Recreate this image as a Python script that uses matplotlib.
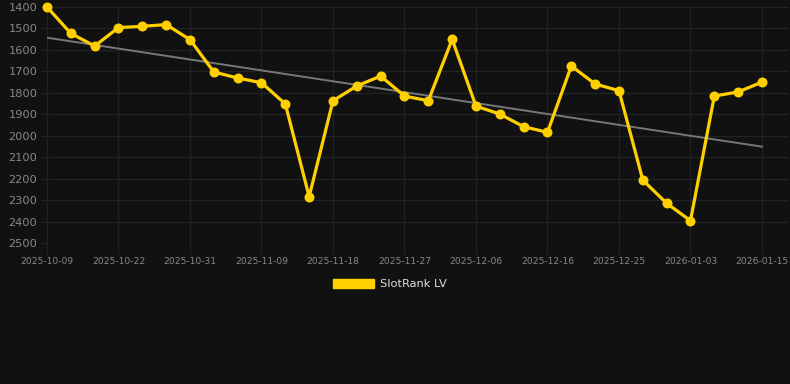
import matplotlib
matplotlib.use("Agg")
import matplotlib.pyplot as plt
from matplotlib.patches import Patch
import numpy as np

# dates (only every third one is shown as a tick label)
dates = ["2025-10-09", "2025-10-13", "2025-10-18", "2025-10-22", "2025-10-25",
         "2025-10-28", "2025-10-31", "2025-11-03", "2025-11-06", "2025-11-09",
         "2025-11-12", "2025-11-15", "2025-11-18", "2025-11-21", "2025-11-24",
         "2025-11-27", "2025-11-30", "2025-12-03", "2025-12-06", "2025-12-09",
         "2025-12-13", "2025-12-16", "2025-12-19", "2025-12-22", "2025-12-25",
         "2025-12-28", "2025-12-31", "2026-01-03", "2026-01-07", "2026-01-11",
         "2026-01-15"]
rank = [1400, 1523, 1582, 1496, 1490, 1482, 1552, 1703, 1731, 1753,
        1852, 2284, 1837, 1768, 1722, 1815, 1837, 1551, 1862, 1899,
        1958, 1984, 1675, 1759, 1790, 2207, 2315, 2396, 1815, 1796,
        1750]
trend_ends = [1543, 2051]
yticks = [1400, 1500, 1600, 1700, 1800, 1900, 2000, 2100, 2200, 2300, 2400, 2500]

bg = "#111111"
yellow = "#FFD000"
W, H = 790, 384

fig = plt.figure(figsize=(W / 100, H / 100), dpi=100, facecolor=bg)
# axes in pixel coords: left 47, right 789, top 7, bottom 243
ax = fig.add_axes([47 / W, 1 - 243 / H, (789 - 47) / W, (243 - 7) / H])
ax.set_facecolor(bg)

x = np.arange(len(rank))
ax.plot([x[0], x[-1]], trend_ends, color="#777777", lw=1.4, zorder=2)
ax.plot(x, rank, color=yellow, lw=2.3, marker="o", ms=7.2,
        markeredgewidth=0, zorder=3, clip_on=False)

ax.set_xlim(0, 30 + (789 - 762) / 23.83)
ax.set_ylim(2500, 1400)
ax.set_yticks(yticks)
ax.set_xticks(x[::3])
ax.set_xticklabels(dates[::3])

ax.grid(True, color="#222222", lw=0.9)
ax.set_axisbelow(True)
for s in ax.spines.values():
    s.set_visible(False)
ax.tick_params(axis="y", colors="#888888", labelsize=8.2, length=4, pad=3,
               color="#222222")
ax.tick_params(axis="x", colors="#888888", labelsize=6.6, length=8, pad=2,
               color="#222222")

fig.legend(handles=[Patch(facecolor=yellow, edgecolor=yellow)],
           labels=["SlotRank LV"], loc="center",
           bbox_to_anchor=(390 / W, 1 - 284 / H), frameon=False,
           handlelength=3.6, handleheight=0.9, fontsize=8.2,
           labelcolor="#dddddd", handletextpad=0.5)

fig.savefig("out.png", dpi=100, facecolor=bg)
